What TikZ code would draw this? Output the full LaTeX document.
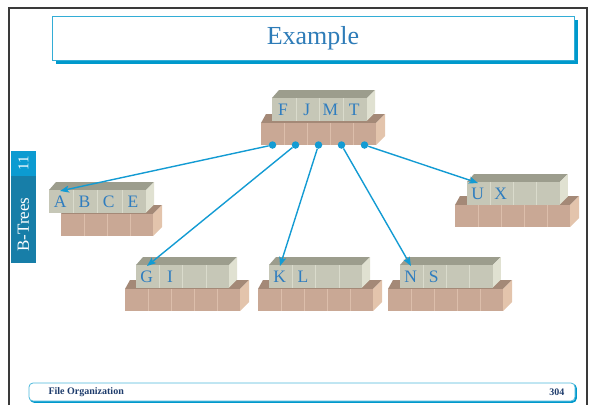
\documentclass[tikz,border=0pt]{standalone}
\usepackage{fontspec}
\setmainfont{Liberation Serif}
\usetikzlibrary{arrows.meta}
\definecolor{keyblue}{HTML}{2F7DBF}
\definecolor{linkblue}{HTML}{139BD3}
\definecolor{greyfront}{HTML}{C6C7B7}
\definecolor{greytop}{HTML}{9C9D8D}
\definecolor{greyside}{HTML}{E0E1D1}
\definecolor{greyline}{HTML}{DADBCC}
\definecolor{pinkfront}{HTML}{C9A895}
\definecolor{pinktop}{HTML}{A48977}
\definecolor{pinkside}{HTML}{E3C4AC}
\definecolor{pinkline}{HTML}{DCBEAB}
\definecolor{tablight}{HTML}{0C9BD1}
\definecolor{tabdark}{HTML}{177EA8}
\definecolor{titleblue}{HTML}{2E7CB8}
\definecolor{shadowblue}{HTML}{0099CC}
\definecolor{framegrey}{HTML}{3A3A3A}
\definecolor{footnavy}{HTML}{1E3C6C}
\begin{document}
\begin{tikzpicture}[x=1pt, y=-1pt, >={Stealth[length=9pt,width=7pt,inset=2pt]},
  key/.style={text=keyblue, font=\fontsize{17.5}{17.5}\selectfont, inner sep=0pt},
  ptr/.style={->, linkblue, line width=1.4pt},
  dot/.style={circle, fill=linkblue, inner sep=0pt, minimum size=7.5pt}]
\useasboundingbox (0,0) rectangle (590,405);
% slide frame, title, tab and footer
\draw[framegrey, line width=2.5pt](9,405)--(9,8)--(587,8)--(587,405);
\fill[shadowblue](56,20) rectangle (578,64);
\draw[shadowblue!80, fill=white, line width=.8pt](52,16) rectangle (574,60);
\node[text=titleblue, font=\fontsize{26}{28}\selectfont] (title) at (313,38) {Example};
\fill[tablight](11,151) rectangle (36,176);
\fill[tabdark](11,176) rectangle (36,263);
\node[rotate=90, text=white, font=\fontsize{15}{15}\selectfont] (tabnum) at (23.5,163.5) {11};
\node[rotate=90, text=white, font=\fontsize{17}{17}\selectfont] (tabname) at (23.5,224.5) {B-Trees};
\draw[shadowblue, rounded corners=4pt, line width=1.8pt](30.5,384.5) rectangle (576,402);
\draw[shadowblue!70, fill=white, rounded corners=4pt, line width=.8pt](29,383) rectangle (575,401);
\node[anchor=west, text=footnavy, font=\bfseries\fontsize{10}{10}\selectfont] (course) at (45,392) {File Organization};
\node[anchor=east, text=footnavy, font=\bfseries\fontsize{10}{10}\selectfont] (page) at (568,392) {304};
% b-tree nodes: key row on top of pointer row
\foreach \nm/\gx/\gy/\gc/\px/\py/\pn/\keys in {
  root/272/98/23.8/261/123/5/{F,J,M,T},
  abce/49/190/24.3/61/214/4/{A,B,C,E},
  gi/136/265/23.3/125/289/5/{G,I},
  kl/269/265/23.3/258/289/5/{K,L},
  ns/400/265/23.2/388/289/5/{N,S},
  ux/467/182/23.2/455/205/5/{U,X}}{
  \pgfmathsetmacro\pr{\px+23*\pn}
  \fill[pinktop](\px,\py)--++(5,-9)--(\pr+9,\py-9)--(\pr,\py)--cycle;
  \fill[pinkside](\pr,\py)--++(9,-9)--++(0,22)--(\pr,\py+22)--cycle;
  \fill[pinkfront](\px,\py) rectangle (\pr,\py+22);
  \foreach \i in {2,...,\pn} \draw[pinkline](\px+23*\i-23,\py)--++(0,22);
  \pgfmathsetmacro\gr{\gx+4*\gc}
  \fill[greytop](\gx,\gy)--++(7,-8)--(\gr+8,\gy-8)--(\gr,\gy)--cycle;
  \fill[greyside](\gr,\gy)--++(8,-8)--++(0,22.5)--(\gr,\gy+22.5)--cycle;
  \fill[greyfront](\gx,\gy) rectangle (\gr,\gy+22.5);
  \foreach \i in {1,2,3} \draw[greyline](\gx+\i*\gc,\gy)--++(0,22.5);
  \foreach \k [count=\i] in \keys
    \node[key] (\nm-k\i) at (\gx+\i*\gc-.5*\gc-1,\gy+11.5) {\k};
  \coordinate (\nm-in) at (\gx+11,\gy+1);
}
\foreach \i in {1,...,5} \node[dot] (root-p\i) at (261+23*\i-11.5,145) {};
\foreach \i/\c in {1/abce,2/gi,3/kl,4/ns,5/ux} \draw[ptr](root-p\i)--(\c-in);

\end{tikzpicture}
\end{document}
